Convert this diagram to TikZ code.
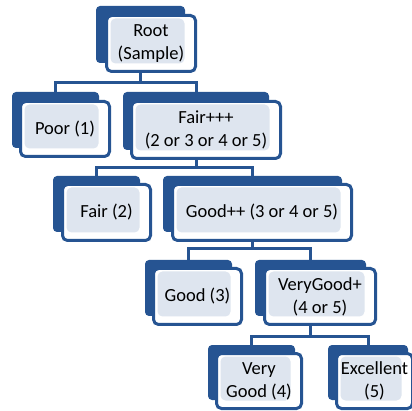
\documentclass[tikz,border=0pt]{standalone}
\usepackage{fontspec}
\setmainfont{Carlito}
\usetikzlibrary{backgrounds}
\definecolor{boxblue}{RGB}{38,84,146}
\definecolor{boxfill}{RGB}{222,229,239}

\tikzset{
  backbox/.style={fill=boxblue, rounded corners=4pt, inner sep=0pt},
  frontbox/.style={draw=boxblue, line width=3pt, fill=white, rounded corners=5pt,
    align=center, inner sep=0pt, font=\fontsize{18.5}{23}\selectfont,
    path picture={\fill[boxfill] ([shift={(4pt,8pt)}]path picture bounding box.south west)
      rectangle ([shift={(-11pt,-3pt)}]path picture bounding box.north east);}},
  link/.style={draw=boxblue, line width=3pt}
}

\begin{document}
\begin{tikzpicture}[x=1pt,y=-1pt]
        \useasboundingbox (0,0) rectangle (412,411);

        % Root
        \node[backbox, minimum width=89pt, minimum height=57pt] (rootbk) at (140.5,34.5) {};
        \node[frontbox, minimum width=89pt, minimum height=56pt] (root) at (151,43.5) {Root\\(Sample)};

        % Level 1
        \node[backbox, minimum width=87pt, minimum height=56pt] (poorbk) at (55.5,120) {};
        \node[frontbox, minimum width=89pt, minimum height=55pt] (poor) at (65,129) {Poor (1)};
        \node[backbox, minimum width=146pt, minimum height=58pt] (fairpbk) at (196,121) {};
        \node[frontbox, minimum width=149pt, minimum height=57pt] (fairp) at (206,130) {Fair+++\\(2 or 3 or 4 or 5)};

        % Level 2
        \node[backbox, minimum width=87pt, minimum height=56pt] (fairbk) at (96.5,204) {};
        \node[frontbox, minimum width=88pt, minimum height=56pt] (fair) at (106.5,212.5) {Fair (2)};
        \node[backbox, minimum width=179pt, minimum height=56pt] (goodppbk) at (252.5,204) {};
        \node[frontbox, minimum width=179pt, minimum height=56pt] (goodpp) at (262,212.5) {Good++ (3 or 4 or 5)};

        % Level 3
        \node[backbox, minimum width=87pt, minimum height=56pt] (goodbk) at (188.5,288) {};
        \node[frontbox, minimum width=88pt, minimum height=56pt] (good) at (197.5,296.5) {Good (3)};
        \node[backbox, minimum width=111pt, minimum height=56pt] (vgoodpbk) at (310.5,288) {};
        \node[frontbox, minimum width=111pt, minimum height=56pt] (vgoodp) at (320,296.5) {VeryGood+\\(4 or 5)};

        % Level 4
        \node[backbox, minimum width=87pt, minimum height=55pt] (vgoodbk) at (251.5,372.5) {};
        \node[frontbox, minimum width=85pt, minimum height=55pt] (vgood) at (259,381) {Very\\Good (4)};
        \node[backbox, minimum width=80pt, minimum height=55pt] (excbk) at (368,372.5) {};
        \node[frontbox, minimum width=76pt, minimum height=55pt] (exc) at (374.5,381) {Excellent\\(5)};

        % Connectors
        \begin{scope}[on background layer]
        \coordinate (j1) at (140.5,83);
        \draw[link] (rootbk.center) -- (j1) -| (poorbk.north);
        \draw[link] (j1) -| (fairpbk.north);
        \coordinate (j2) at (196,168);
        \draw[link] (fairpbk.center) -- (j2) -| (fairbk.north);
        \draw[link] (j2) -| (goodppbk.north);
        \coordinate (j3) at (252.5,249);
        \draw[link] (goodppbk.center) -- (j3) -| (goodbk.north);
        \draw[link] (j3) -| (vgoodpbk.north);
        \coordinate (j4) at (310.5,337);
        \draw[link] (vgoodpbk.center) -- (j4) -| (vgoodbk.north);
        \draw[link] (j4) -| (excbk.north);
        \end{scope}
    \end{tikzpicture}
\end{document}
